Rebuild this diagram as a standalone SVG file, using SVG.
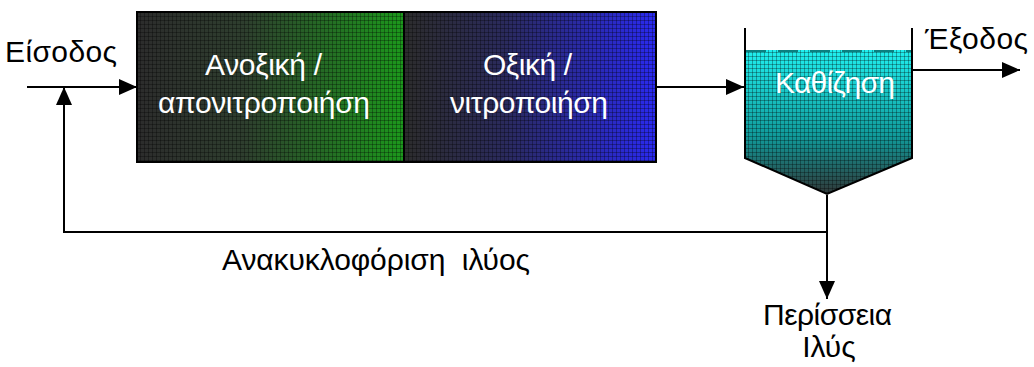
<svg xmlns="http://www.w3.org/2000/svg" width="1034" height="367" viewBox="0 0 1034 367">
<style>
.lbl{font-family:"Liberation Sans",Arial,sans-serif;font-size:30px;fill:#000;white-space:pre}
.wl{font-family:"Liberation Sans",Arial,sans-serif;font-size:30px;fill:#fff}
.ln{stroke:#000;stroke-width:2;fill:none}
.box{stroke:#000;stroke-width:2}
</style>
<defs>
<linearGradient id="gGreen" x1="0" y1="0" x2="1" y2="0">
<stop offset="0" stop-color="#2c2c2c"/><stop offset="0.4" stop-color="#2e3e2e"/><stop offset="1" stop-color="#1c981c"/>
</linearGradient>
<linearGradient id="gBlue" x1="0" y1="0" x2="1" y2="0">
<stop offset="0" stop-color="#2c2c2c"/><stop offset="0.4" stop-color="#2a2a5c"/><stop offset="1" stop-color="#2a2af0"/>
</linearGradient>
<linearGradient id="gCyan" x1="0" y1="0" x2="0" y2="1">
<stop offset="0" stop-color="#20f0f0"/><stop offset="0.6" stop-color="#109a9a"/><stop offset="1" stop-color="#303838"/>
</linearGradient>
<pattern id="grid" width="4" height="4" patternUnits="userSpaceOnUse">
<path d="M0 0.5H4M0.5 0V4" stroke="#000" stroke-opacity="0.3" stroke-width="1"/>
</pattern>
<marker id="ahL" viewBox="0 0 18 16" refX="18" refY="8" markerWidth="18" markerHeight="16" markerUnits="userSpaceOnUse" orient="auto">
<path d="M0 0L18 8L0 16z" fill="#000"/>
</marker>
</defs>

<g id="connectors">
<line class="ln" x1="27" y1="87" x2="137" y2="87" marker-end="url(#ahL)"/>
<line class="ln" x1="656" y1="87" x2="744" y2="87" marker-end="url(#ahL)"/>
<line class="ln" x1="912" y1="70" x2="1020" y2="70" marker-end="url(#ahL)"/>
<polyline class="ln" points="827,232 64,232 64,87" marker-end="url(#ahL)"/>
<line class="ln" x1="827" y1="195" x2="827" y2="299" marker-end="url(#ahL)"/>
</g>

<g id="anoxic">
<rect class="box" x="137" y="12" width="267" height="150" fill="url(#gGreen)"/>
<rect x="138" y="13" width="265" height="148" fill="url(#grid)"/>
<text class="wl" x="205" y="75" textLength="117">Ανοξική /</text>
<text class="wl" x="158" y="113" textLength="212">απονιτροποιήση</text>
</g>

<g id="aerobic">
<rect class="box" x="404" y="12" width="252" height="150" fill="url(#gBlue)"/>
<rect x="405" y="13" width="250" height="148" fill="url(#grid)"/>
<text class="wl" x="483" y="75" textLength="89">Οξική /</text>
<text class="wl" x="450" y="113" textLength="158">νιτροποιήση</text>
</g>

<g id="settler">
<path d="M745 50H912V158L827 194L745 158Z" fill="url(#gCyan)"/>
<path d="M745 50H912V158L827 194L745 158Z" fill="url(#grid)"/>
<line x1="746" y1="51" x2="911" y2="51" stroke="#0a8080" stroke-width="2" stroke-dasharray="20,12"/>
<path class="ln" d="M745 28V158L827 194L912 158V28" stroke-width="3"/>
<text class="wl" x="775" y="93" textLength="120">Καθίζηση</text>
</g>

<g id="labels">
<text class="lbl" x="5" y="62" textLength="112">Είσοδος</text>
<text class="lbl" x="925" y="49" textLength="103">Έξοδος</text>
<text class="lbl" x="222" y="270" textLength="308">Ανακυκλοφόριση  ιλύος</text>
<text class="lbl" x="763" y="325" textLength="129">Περίσσεια</text>
<text class="lbl" x="829" y="357" text-anchor="middle">Ιλύς</text>
</g>
</svg>
